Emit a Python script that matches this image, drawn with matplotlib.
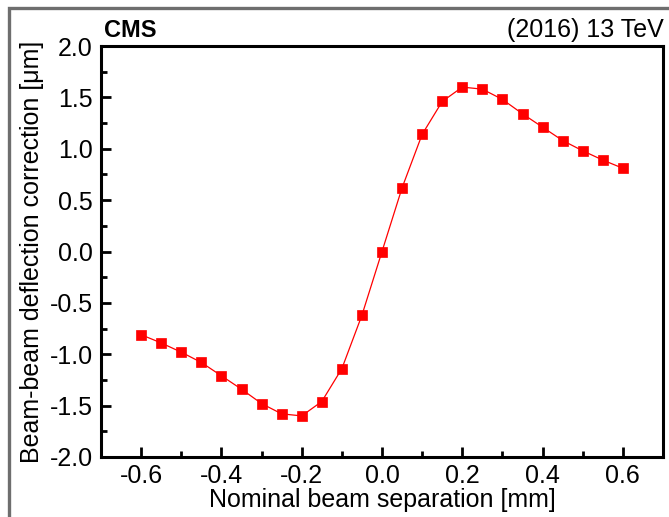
import matplotlib
matplotlib.use('Agg')
import matplotlib.pyplot as plt
import matplotlib.patches as mpatches
from matplotlib.ticker import MultipleLocator, FuncFormatter

plt.rcParams.update({
    'font.family': 'Liberation Sans',
    'font.size': 18,
})

# ── Datos ──────────────────────────────────────────────────────────
sep = [-0.60, -0.55, -0.50, -0.45, -0.40, -0.35, -0.30, -0.25, -0.20, -0.15, -0.10, -0.05, 0.00,
       0.05, 0.10, 0.15, 0.20, 0.25, 0.30, 0.35, 0.40, 0.45, 0.50, 0.55, 0.60]
corr = [-0.81, -0.89, -0.98, -1.08, -1.21, -1.34, -1.48, -1.58, -1.60, -1.46, -1.14, -0.62, 0.00,
        0.62, 1.14, 1.46, 1.60, 1.58, 1.48, 1.34, 1.21, 1.08, 0.98, 0.89, 0.81]

RED = '#ff0000'

fig = plt.figure(figsize=(6.69, 5.17), dpi=100, facecolor='white')
ax = fig.add_axes([101/669, 1 - 457/517, 562/669, 411/517])

# marco gris de la figura (solo visible arriba e izquierda)
fig.patches.append(mpatches.Rectangle((8.5/669, -0.2), 1.3, 1.2 - 7.5/517,
                                      transform=fig.transFigure, fill=False,
                                      edgecolor='#6e6e6e', linewidth=2.4))

ax.plot(sep, corr, color=RED, linewidth=0.9, marker='s', markersize=7.5,
        markerfacecolor=RED, markeredgecolor=RED, markeredgewidth=0.5, zorder=3)

fmt = FuncFormatter(lambda v, p: f'{v:.1f}'.replace('-0.0', '0.0'))
ax.set_xlim(-0.7, 0.7)
ax.set_ylim(-2.0, 2.0)
ax.xaxis.set_major_locator(MultipleLocator(0.2))
ax.xaxis.set_minor_locator(MultipleLocator(0.1))
ax.yaxis.set_major_locator(MultipleLocator(0.5))
ax.yaxis.set_minor_locator(MultipleLocator(0.25))
ax.xaxis.set_major_formatter(fmt)
ax.yaxis.set_major_formatter(fmt)

ax.tick_params(which='both', direction='in', top=False, right=False, width=2)
ax.tick_params(which='major', length=7, labelsize=18)
ax.tick_params(axis='y', which='major', pad=6)
ax.tick_params(axis='x', which='major', pad=5)
ax.tick_params(which='minor', length=4)
for s in ax.spines.values():
    s.set_linewidth(2.2)

ax.set_xlabel('Nominal beam separation [mm]', fontsize=18, labelpad=0)
ax.set_ylabel('Beam-beam deflection correction [μm]', fontsize=18, labelpad=4)

fig.text(104/669, 1 - 37/517, 'CMS', fontsize=17, fontweight='bold', ha='left', va='baseline')
fig.text(664/669, 1 - 37/517, '(2016) 13 TeV', fontsize=18, ha='right', va='baseline')

plt.savefig('out.png', dpi=100, facecolor='white')
plt.close()
